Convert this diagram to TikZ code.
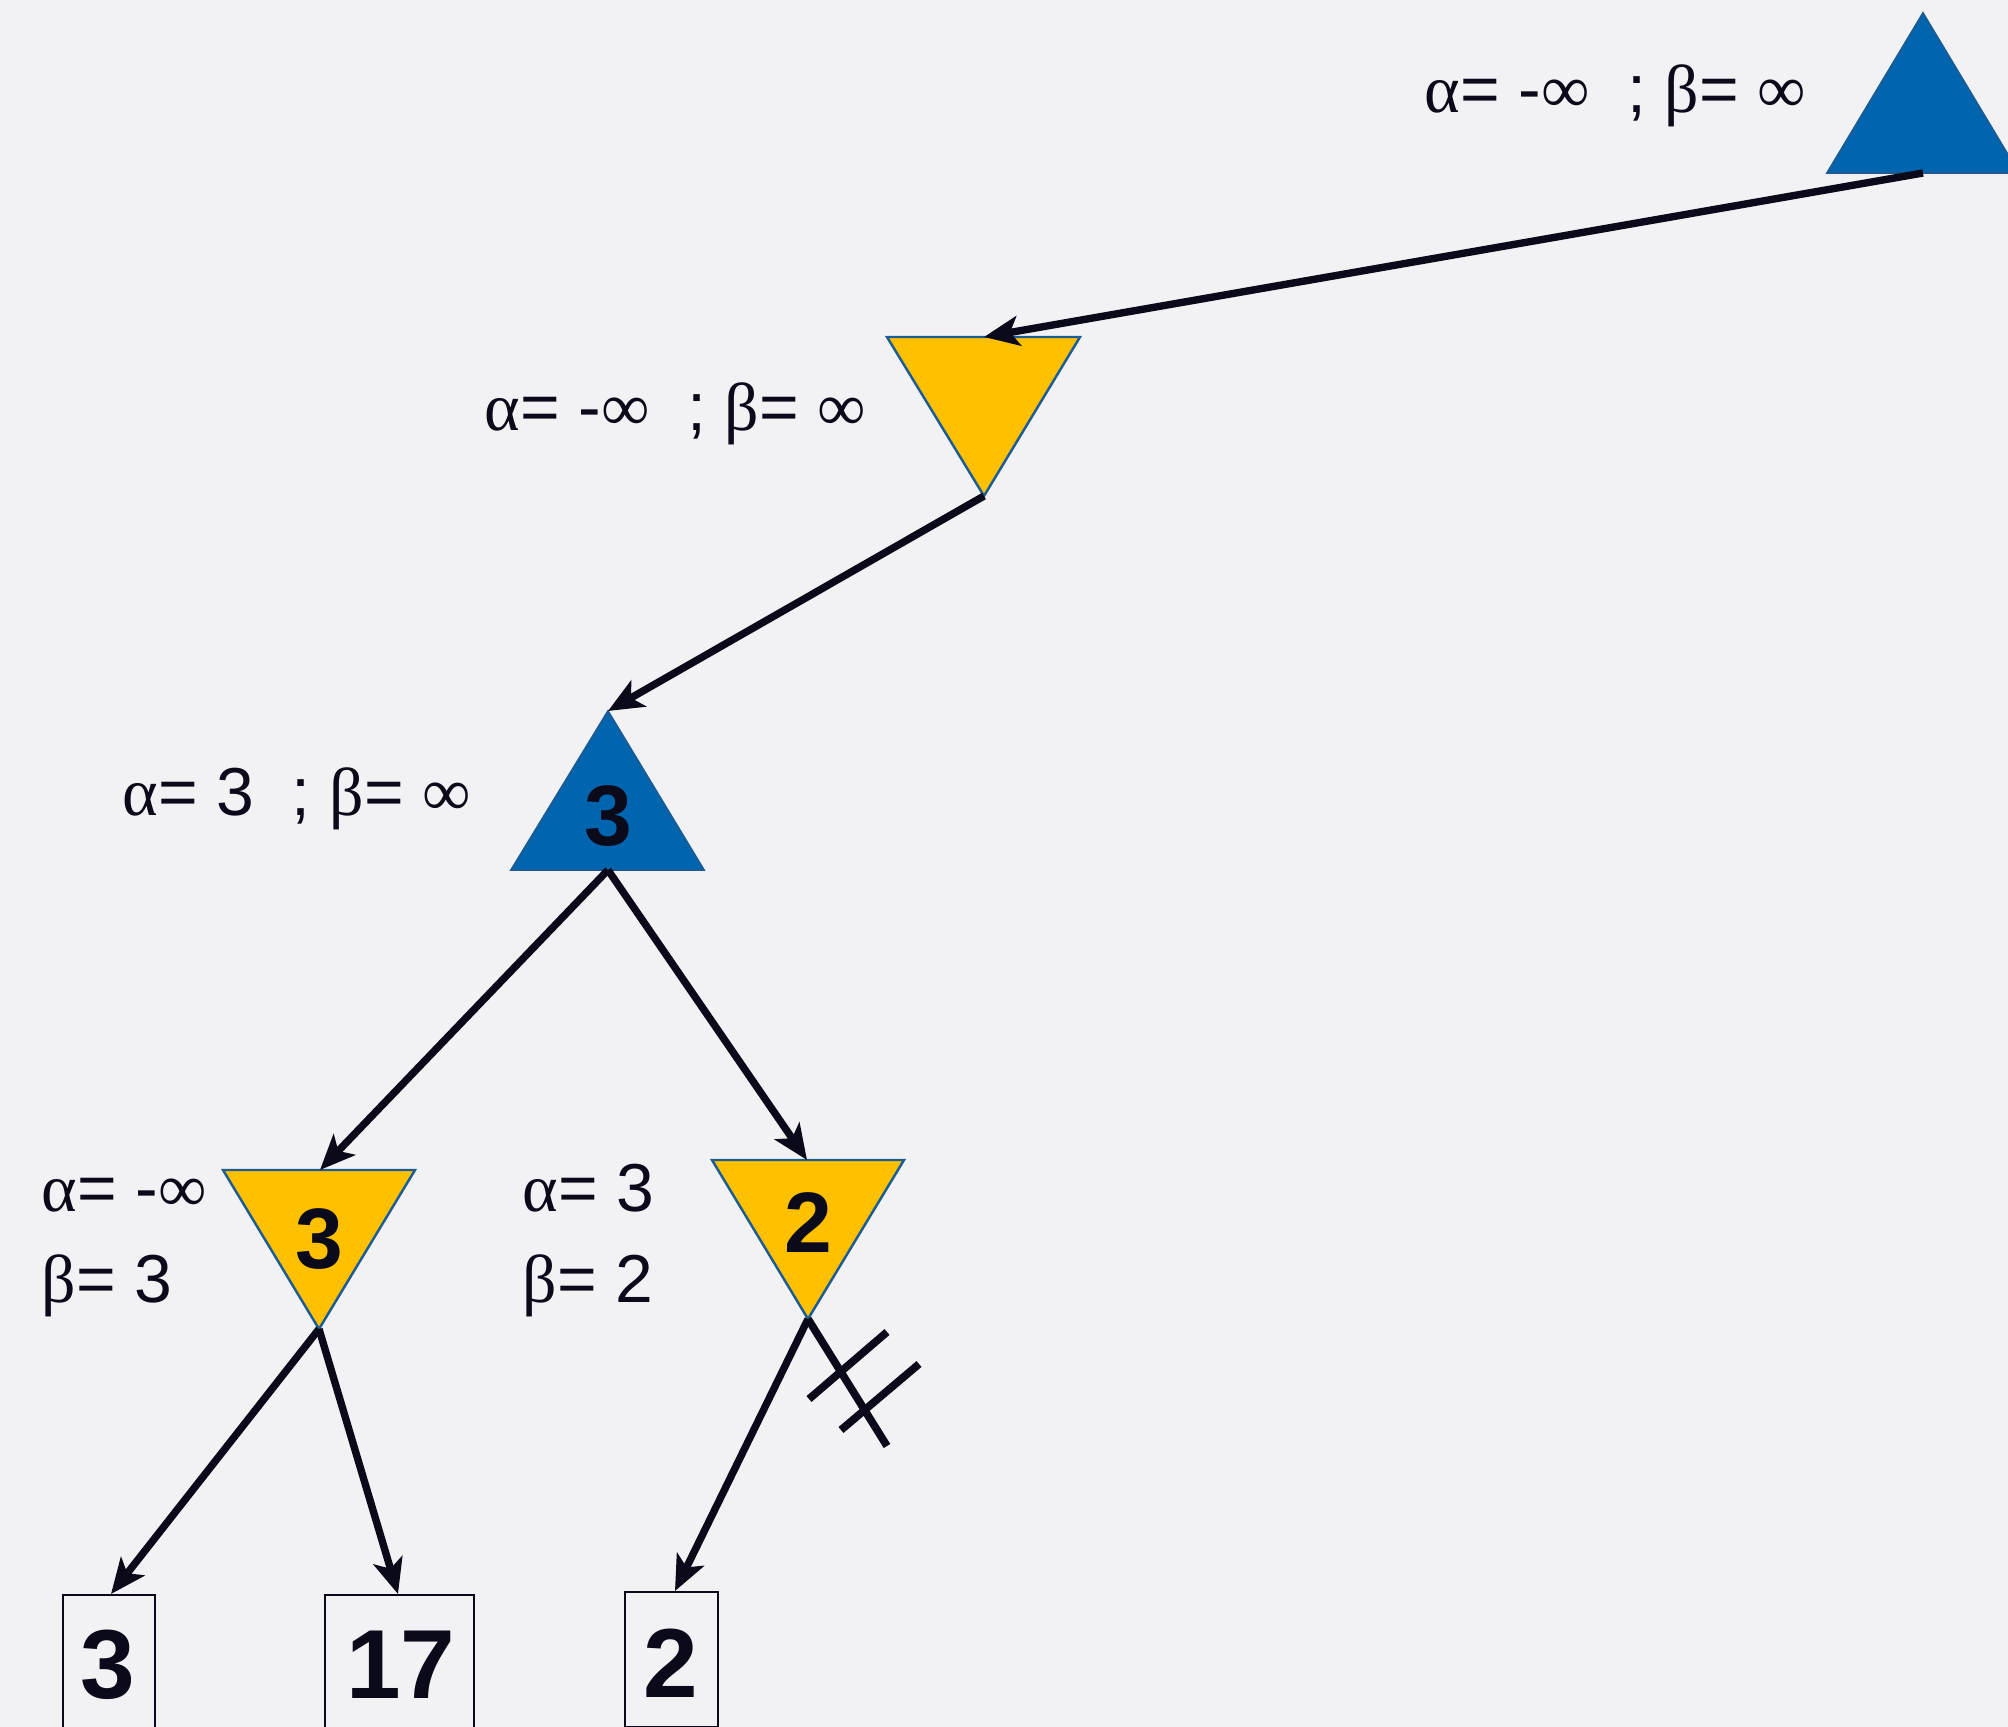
\documentclass[tikz,border=0pt]{standalone}
\usepackage{fontspec}
\setmainfont{Liberation Sans}
\newfontfamily\grk{Liberation Serif}
\usetikzlibrary{arrows.meta}
\definecolor{bg}{HTML}{F2F2F4}
\definecolor{maxblue}{HTML}{0064AF}
\definecolor{minyellow}{HTML}{FFC000}
\definecolor{edgeblue}{HTML}{1B5C94}
\definecolor{ink}{HTML}{0B0A1A}
\begin{document}
\begin{tikzpicture}[x=0.01cm,y=-0.01cm,
  conn/.style={draw=ink, line width=2.1pt, -{Stealth[length=10pt,width=8.5pt,inset=2.5pt]}},
  cutline/.style={draw=ink, line width=2.2pt},
  maxtri/.style={fill=maxblue, draw=edgeblue, line width=0.5pt},
  mintri/.style={fill=minyellow, draw=edgeblue, line width=0.7pt},
  lbl/.style={text=ink, font=\fontsize{19.3}{23}\selectfont, inner sep=0pt, anchor=base west},
  val/.style={text=ink, font=\fontsize{24.4}{28}\selectfont\bfseries, inner sep=0pt, anchor=base},
  leafval/.style={text=ink, font=\fontsize{27.9}{32}\selectfont\bfseries, inner sep=0pt, anchor=base},
  leafbox/.style={draw=ink, line width=0.6pt, anchor=north, inner sep=0pt}]
\fill[bg] (0,0) rectangle (2008,1727);
\useasboundingbox (0,0) rectangle (2008,1727);
\clip (0,0) rectangle (2008,1727);

% triangles
\draw[maxtri] (1827,173) -- (1923,13) -- (2019,173) -- cycle;
\coordinate (t1base) at (1923,173);
\draw[mintri] (887,337) -- (1080,337) -- (984,496) -- cycle;
\coordinate (t2top) at (984,337);
\coordinate (t2bot) at (984,496);
\draw[maxtri] (511,870) -- (608,711) -- (704,870) -- cycle;
\coordinate (t3apex) at (608,711);
\coordinate (t3base) at (608,870);
\draw[mintri] (223,1170) -- (415,1170) -- (319,1329) -- cycle;
\coordinate (t4top) at (320,1170);
\coordinate (t4bot) at (319,1329);
\draw[mintri] (712,1160) -- (904,1160) -- (808,1319) -- cycle;
\coordinate (t5top) at (807,1160);
\coordinate (t5bot) at (808,1319);

% values in triangles
\node[val] (v3) at (608,845) {3};
\node[val] (v4) at (319,1268) {3};
\node[val] (v5) at (808,1252) {2};

% leaves
\node[leafbox, minimum width=0.92cm, minimum height=1.7cm] (l1) at (109,1594) {};
\node[leafbox, minimum width=1.49cm, minimum height=1.7cm] (l2) at (399.5,1594) {};
\node[leafbox, minimum width=0.93cm, minimum height=1.345cm] (l3) at (671.5,1591) {};
\node[leafval] (l1t) at (108,1698) {3};
\node[leafval] (l2t) at (401,1698) {17};
\node[leafval] (l3t) at (671,1697) {2};

% labels
\node[lbl] (a1) at (1424,113) {{\grk α}= -{\grk ∞}\hspace{0.55em}; {\grk β}= {\grk ∞}};
\node[lbl] (a2) at (484,430) {{\grk α}= -{\grk ∞}\hspace{0.55em}; {\grk β}= {\grk ∞}};
\node[lbl] (a3) at (122,815) {{\grk α}= 3\hspace{0.55em}; {\grk β}= {\grk ∞}};
\node[lbl] (a4) at (41,1211) {{\grk α}= -{\grk ∞}};
\node[lbl] (b4) at (41,1302) {{\grk β}= 3};
\node[lbl] (a5) at (522,1211) {{\grk α}= 3};
\node[lbl] (b5) at (522,1302) {{\grk β}= 2};

% connectors
\draw[conn] (t1base) -- (t2top);
\draw[conn] (t2bot) -- (t3apex);
\draw[conn] (t3base) -- (t4top);
\draw[conn] (t3base) -- (t5top);
\draw[conn] (t4bot) -- ([xshift=0.02cm]l1.north);
\draw[conn] (t4bot) -- ([xshift=-0.015cm]l2.north);
\draw[conn] (t5bot) -- ([xshift=0.035cm]l3.north);

% pruned branch
\coordinate (cutend) at (887,1446);
\coordinate (c1a) at (809,1399);
\coordinate (c1b) at (887,1332);
\coordinate (c2a) at (841,1430);
\coordinate (c2b) at (919,1364);
\draw[cutline] (t5bot) -- (cutend);
\draw[cutline] (c1a) -- (c1b);
\draw[cutline] (c2a) -- (c2b);
\end{tikzpicture}
\end{document}
